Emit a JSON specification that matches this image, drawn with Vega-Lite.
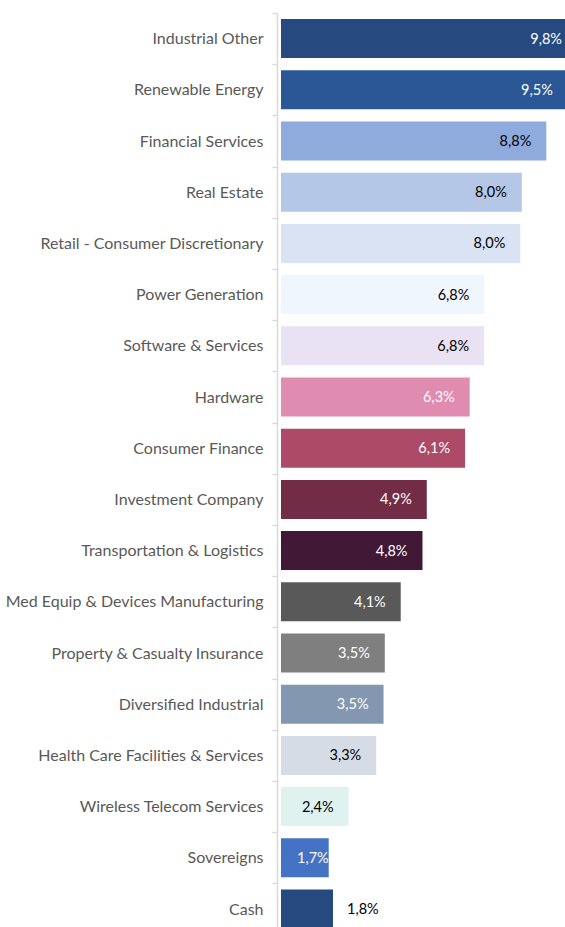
{
  "$schema": "https://vega.github.io/schema/vega-lite/v6.json",
  "width": 284,
  "height": 914,
  "autosize": {"type": "none"},
  "padding": {"left": 281, "top": 13, "right": 0, "bottom": 0},
  "background": "white",
  "config": {"view": {"stroke": null}, "font": "Lato"},
  "data": {
    "values": [
      {"sector": "Industrial Other", "value": 9.8, "label": "9,8%"},
      {"sector": "Renewable Energy", "value": 9.5, "label": "9,5%"},
      {"sector": "Financial Services", "value": 8.8, "label": "8,8%"},
      {"sector": "Real Estate", "value": 8.0, "label": "8,0%"},
      {"sector": "Retail - Consumer Discretionary", "value": 7.95, "label": "8,0%"},
      {"sector": "Power Generation", "value": 6.78, "label": "6,8%"},
      {"sector": "Software & Services", "value": 6.77, "label": "6,8%"},
      {"sector": "Hardware", "value": 6.3, "label": "6,3%"},
      {"sector": "Consumer Finance", "value": 6.15, "label": "6,1%"},
      {"sector": "Investment Company", "value": 4.9, "label": "4,9%"},
      {"sector": "Transportation & Logistics", "value": 4.76, "label": "4,8%"},
      {"sector": "Med Equip & Devices Manufacturing", "value": 4.05, "label": "4,1%"},
      {"sector": "Property & Casualty Insurance", "value": 3.53, "label": "3,5%"},
      {"sector": "Diversified Industrial", "value": 3.49, "label": "3,5%"},
      {"sector": "Health Care Facilities & Services", "value": 3.25, "label": "3,3%"},
      {"sector": "Wireless Telecom Services", "value": 2.35, "label": "2,4%"},
      {"sector": "Sovereigns", "value": 1.7, "label": "1,7%"},
      {"sector": "Cash", "value": 1.84, "label": "1,8%"}
    ]
  },
  "encoding": {
    "y": {
      "field": "sector",
      "type": "nominal",
      "sort": null,
      "title": null,
      "scale": {"range": [0, 921.6], "paddingInner": 0, "paddingOuter": 0},
      "axis": {
        "offset": 4,
        "domainColor": "#d9d9d9",
        "domainWidth": 1.5,
        "tickColor": "#d9d9d9",
        "tickWidth": 1.5,
        "tickSize": 5,
        "tickBand": "extent",
        "labelPadding": 9,
        "labelFont": "Lato",
        "labelFontSize": 16,
        "labelColor": "#595959",
        "labelLimit": 300,
        "grid": false
      }
    }
  },
  "layer": [
    {
      "mark": {"type": "bar", "size": 39, "clip": true},
      "encoding": {
        "x": {"field": "value", "type": "quantitative", "scale": {"domain": [0.1435, 9.41], "nice": false, "zero": false}, "axis": null},
        "color": {
          "field": "sector",
          "type": "nominal",
          "legend": null,
          "scale": {
            "domain": ["Industrial Other", "Renewable Energy", "Financial Services", "Real Estate", "Retail - Consumer Discretionary", "Power Generation", "Software & Services", "Hardware", "Consumer Finance", "Investment Company", "Transportation & Logistics", "Med Equip & Devices Manufacturing", "Property & Casualty Insurance", "Diversified Industrial", "Health Care Facilities & Services", "Wireless Telecom Services", "Sovereigns", "Cash"],
            "range": ["#264a80", "#2b5797", "#8faadc", "#b4c7e7", "#dae3f3", "#eff6fd", "#e9e2f2", "#e08bb0", "#ad4a67", "#722c45", "#411836", "#595959", "#7f7f7f", "#8497b0", "#d6dce5", "#dff2f0", "#4472c4", "#264a80"]
          }
        }
      }
    },
    {
      "transform": [{"filter": "datum.sector != 'Sovereigns' && datum.sector != 'Cash'"}],
      "mark": {"type": "text", "align": "right", "baseline": "middle", "dx": -15, "dy": 1, "fontSize": 14.5, "font": "Lato"},
      "encoding": {
        "x": {"field": "value", "type": "quantitative"},
        "text": {"field": "label"},
        "color": {
          "condition": {"test": "indexof(['Financial Services','Real Estate','Retail - Consumer Discretionary','Power Generation','Software & Services','Health Care Facilities & Services','Wireless Telecom Services'], datum.sector) >= 0", "value": "#000000"},
          "value": "#ffffff"
        }
      }
    },
    {
      "transform": [{"filter": "datum.sector == 'Sovereigns'"}],
      "mark": {"type": "text", "align": "right", "baseline": "middle", "dx": 0, "dy": 1, "fontSize": 14.5, "font": "Lato", "color": "#ffffff"},
      "encoding": {
        "x": {"field": "value", "type": "quantitative"},
        "text": {"field": "label"}
      }
    },
    {
      "transform": [{"filter": "datum.sector == 'Cash'"}],
      "mark": {"type": "text", "align": "left", "baseline": "middle", "dx": 14, "dy": 1, "fontSize": 14.5, "font": "Lato", "color": "#000000"},
      "encoding": {
        "x": {"field": "value", "type": "quantitative"},
        "text": {"field": "label"}
      }
    }
  ]
}
